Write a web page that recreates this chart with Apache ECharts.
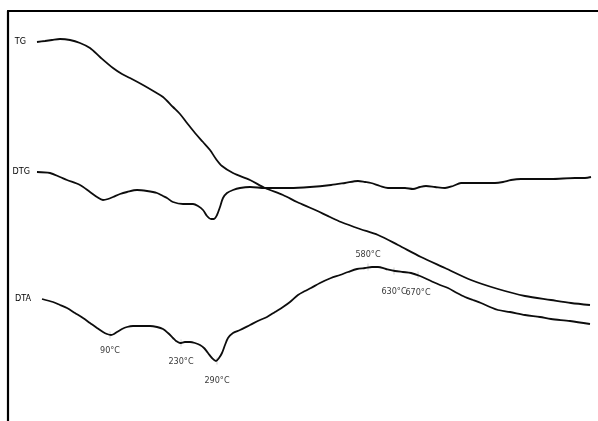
<!DOCTYPE html>
<html>
<head>
<meta charset="utf-8">
<script src="https://cdn.jsdelivr.net/npm/echarts@6/dist/echarts.min.js"></script>
<style>
  html, body { margin: 0; padding: 0; background: #fff; }
  #chart { width: 598px; height: 421px; }
</style>
</head>
<body>
<div id="chart"></div>
<script>
// curves (x = plot position along heating, y = signal, downwards)
const tgCurve = [
  [37,42],[45,41],[52,40],[60,39],[70,40],[80,43],[90,48],[100,57],[113,68],[122,74],
  [130,78],[143,85],[155,92],[163,97],[173,107],[180,114],[187,123],[195,133],[203,142],
  [210,150],[216,159],[222,166],[233,173],[250,180],[265,188],[283,195],[297,202],[313,209],
  [330,217],[341,222],[360,229],[378,235],[398,245],[421,257],[445,268],[471,280],[498,289],
  [525,296],[551,300],[571,303],[590,305]
]
const dtgCurve = [
  [37,172],[50,173],[60,177],[67,180],[80,185],[90,192],[97,197],[103,200],[108,199],[113,197],
  [120,194],[127,192],[137,190],[147,191],[157,193],[163,196],[167,198],[173,202],[183,204],
  [193,204],[198,206],[203,210],[207,216],[211,219],[214,219],[217,215],[220,207],[223,198],
  [227,193],[233,190],[240,188],[250,187],[265,188],[290,188],[310,187],[331,185],[345,183],
  [358,181],[365,182],[371,183],[380,186],[388,188],[397,188],[405,188],[413,189],[420,187],
  [426,186],[435,187],[445,188],[453,186],[461,183],[475,183],[485,183],[495,183],[503,182],
  [511,180],[521,179],[531,179],[551,179],[575,178],[585,178],[591,177]
]
const dtaCurve = [
  [42,299],[53,302],[60,305],[67,308],[75,313],[83,318],[90,323],[97,328],[103,332],[107,334],
  [111,335],[114,334],[117,332],[122,329],[127,327],[133,326],[140,326],[150,326],[157,327],
  [163,329],[168,333],[173,338],[176,341],[180,343],[185,342],[190,342],[195,343],[200,345],
  [204,348],[208,353],[212,358],[216,361],[219,358],[222,353],[225,345],[228,338],[233,333],
  [240,330],[250,325],[260,320],[267,317],[275,312],[283,307],[290,302],[298,295],[305,291],
  [311,288],[320,283],[331,278],[340,275],[348,272],[357,269],[365,268],[372,267],[378,267],
  [386,269],[395,271],[403,272],[411,273],[420,276],[431,281],[440,285],[448,288],[457,293],
  [465,297],[473,300],[481,303],[490,307],[498,310],[510,312],[525,315],[540,317],[551,319],
  [570,321],[590,324]
]

const curveNames = ['TG', 'DTG', 'DTA']
const peakLabels = ['90°C', '230°C', '290°C', '580°C', '630°C', '670°C']
const peakPoints = [[110,335],[181,343],[217,361],[368,267],[394,271],[418,275]]

const FONT = "'DejaVu Sans Condensed', 'Liberation Sans Narrow', 'Arial Narrow', sans-serif"

// gap between a curve's name and the start of the curve
const nameGap = { TG: 11, DTG: 7, DTA: 11 }

// where each peak label sits relative to its mark
const labelPlace = {
  '90°C': ['bottom', 8],
  '230°C': ['bottom', 11],
  '290°C': ['bottom', 12],
  '580°C': ['top', 4],
  '630°C': ['bottom', 13],
  '670°C': ['bottom', 10]
}

const textStyle = { color: '#000', fontFamily: FONT, fontSize: 9 }

const lineSeries = (name, data) => ({
  name,
  type: 'line',
  data,
  smooth: 0.3,
  symbol: 'none',
  silent: true,
  lineStyle: { color: '#0d0d0d', width: 1.8 },
  // curve name written just left of where the curve starts
  markPoint: {
    symbol: 'circle',
    symbolSize: 0,
    data: [{ coord: data[0], value: name }],
    label: Object.assign({
      show: true,
      position: 'left',
      distance: nameGap[name],
      formatter: name
    }, textStyle)
  }
})

const chart = echarts.init(document.getElementById('chart'))
chart.setOption({
  animation: false,
  backgroundColor: '#fff',
  grid: { left: 8, top: 11, right: 0, bottom: 0 },
  xAxis: {
    type: 'value',
    position: 'top',
    min: 8,
    max: 598,
    axisLine: { show: true, lineStyle: { color: '#000', width: 2.2 } },
    axisTick: { show: false },
    axisLabel: { show: false },
    splitLine: { show: false }
  },
  yAxis: {
    type: 'value',
    inverse: true,
    min: 11,
    max: 421,
    axisLine: { show: true, lineStyle: { color: '#000', width: 2.2 } },
    axisTick: { show: false },
    axisLabel: { show: false },
    splitLine: { show: false }
  },
  series: [
    lineSeries(curveNames[0], tgCurve),
    lineSeries(curveNames[1], dtgCurve),
    lineSeries(curveNames[2], dtaCurve),
    {
      type: 'scatter',
      silent: true,
      symbol: 'rect',
      symbolSize: [1, 7],
      itemStyle: { color: '#c4c4c4' },
      z: 1,
      data: peakPoints.map((p, i) => ({
        value: p,
        label: Object.assign({
          show: true,
          position: labelPlace[peakLabels[i]][0],
          distance: labelPlace[peakLabels[i]][1],
          formatter: peakLabels[i]
        }, textStyle)
      }))
    }
  ]
})
</script>
</body>
</html>
